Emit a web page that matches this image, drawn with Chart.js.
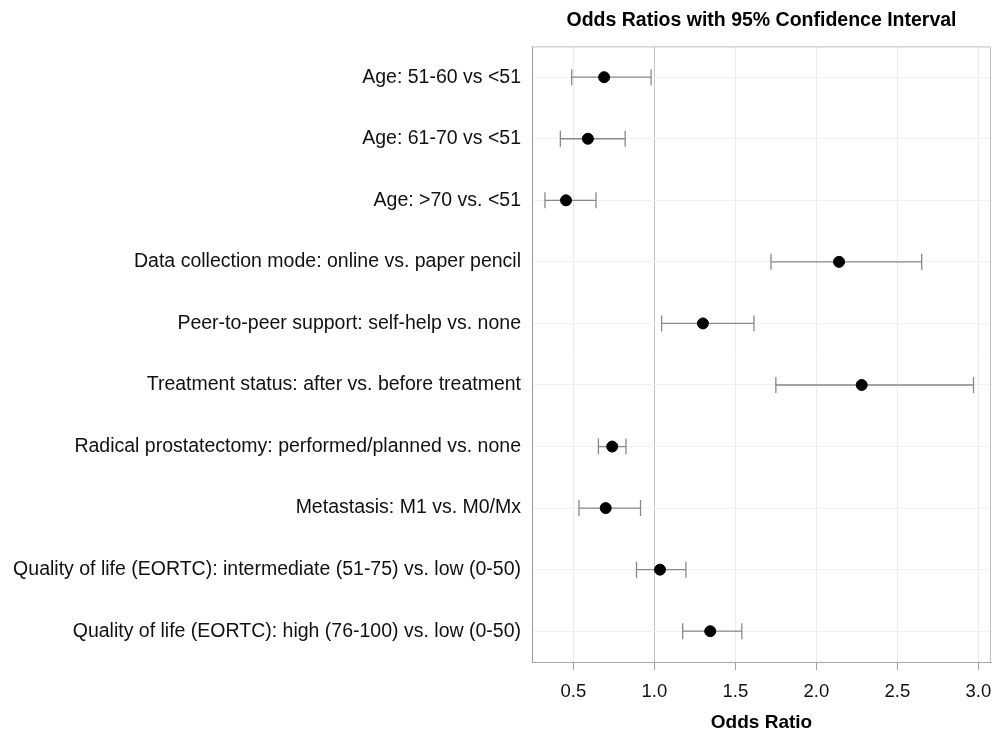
<!DOCTYPE html>
<html>
<head>
<meta charset="utf-8">
<title>Odds Ratios with 95% Confidence Interval</title>
<script src="https://cdn.jsdelivr.net/npm/chart.js@4.4.0/dist/chart.umd.min.js"></script>
<style>
    body { margin: 0; background: #ffffff; }
    canvas { display: block; }
</style>
</head>
<body>
<canvas id="myChart" width="1000" height="735"></canvas>
<script>
// Data
const categories = [
    'Age: 51-60 vs <51',
    'Age: 61-70 vs <51',
    'Age: >70 vs. <51',
    'Data collection mode: online vs. paper pencil',
    'Peer-to-peer support: self-help vs. none',
    'Treatment status: after vs. before treatment',
    'Radical prostatectomy: performed/planned vs. none',
    'Metastasis: M1 vs. M0/Mx',
    'Quality of life (EORTC): intermediate (51-75) vs. low (0-50)',
    'Quality of life (EORTC): high (76-100) vs. low (0-50)'
];
const oddsRatio = [0.69, 0.59, 0.455, 2.14, 1.30, 2.28, 0.74, 0.70, 1.035, 1.345];
const ciLower = [0.49, 0.42, 0.325, 1.72, 1.045, 1.75, 0.655, 0.535, 0.89, 1.175];
const ciUpper = [0.98, 0.82, 0.64, 2.65, 1.615, 2.97, 0.825, 0.915, 1.195, 1.54];
const xTicks = [0.5, 1.0, 1.5, 2.0, 2.5, 3.0];

const fontFamily = '"Liberation Sans", Arial, Helvetica, sans-serif';

// Draws the confidence interval whiskers with caps
const errorBars = {
    id: 'errorBars',
    beforeDatasetsDraw(chart) {
        const ctx = chart.ctx;
        const x = chart.scales.x;
        const y = chart.scales.y;
        ctx.save();
        ctx.strokeStyle = '#888888';
        ctx.lineWidth = 1.3;
        for (let i = 0; i < categories.length; i++) {
            let yp = y.getPixelForValue(i);
            let x1 = x.getPixelForValue(ciLower[i]);
            let x2 = x.getPixelForValue(ciUpper[i]);
            ctx.beginPath();
            ctx.moveTo(x1, yp);
            ctx.lineTo(x2, yp);
            ctx.moveTo(x1, yp - 8);
            ctx.lineTo(x1, yp + 8);
            ctx.moveTo(x2, yp - 8);
            ctx.lineTo(x2, yp + 8);
            ctx.stroke();
        }
        ctx.restore();
    }
};

// Top and right edges of the panel frame
const frame = {
    id: 'frame',
    afterDraw(chart) {
        const ctx = chart.ctx;
        const a = chart.chartArea;
        ctx.save();
        ctx.strokeStyle = '#c0c0c0';
        ctx.lineWidth = 1;
        ctx.beginPath();
        ctx.moveTo(a.left, a.top + 0.5);
        ctx.lineTo(a.right - 0.5, a.top + 0.5);
        ctx.lineTo(a.right - 0.5, a.bottom);
        ctx.stroke();
        ctx.restore();
    }
};

const ctx = document.getElementById('myChart').getContext('2d');
const myChart = new Chart(ctx, {
    type: 'scatter',
    data: {
        datasets: [{
            label: 'Odds Ratio',
            data: categories.map((c, i) => ({ x: oddsRatio[i], y: c })),
            backgroundColor: '#000000',
            borderColor: '#000000',
            pointRadius: 5.5,
            pointHoverRadius: 5.5
        }]
    },
    options: {
        responsive: false,
        animation: false,
        layout: { padding: { left: 0, right: 9, top: 0, bottom: 0 } },
        plugins: {
            legend: { display: false },
            tooltip: { enabled: false },
            title: {
                display: true,
                text: 'Odds Ratios with 95% Confidence Interval',
                fullSize: false,
                color: '#000000',
                font: { family: fontFamily, size: 19.5, weight: 'bold' },
                padding: { top: 9, bottom: 14 }
            }
        },
        scales: {
            x: {
                type: 'linear',
                min: 0.245,
                max: 3.078,
                afterBuildTicks(scale) {
                    scale.ticks = xTicks.map(v => ({ value: v }));
                },
                afterFit(scale) {
                    scale.height = 73;
                    scale.paddingRight = 0;
                },
                ticks: {
                    includeBounds: false,
                    padding: 11,
                    color: '#111111',
                    font: { family: fontFamily, size: 18.5 },
                    callback: value => value.toFixed(1)
                },
                grid: {
                    color: c => (c.tick && c.tick.value === 1 ? '#c4c4c4' : '#ececec'),
                    tickColor: '#a0a0a0',
                    tickLength: 8
                },
                border: { color: '#a8a8a8' },
                title: {
                    display: true,
                    text: 'Odds Ratio',
                    color: '#000000',
                    font: { family: fontFamily, size: 19, weight: 'bold' },
                    padding: { top: 0, bottom: 1 }
                }
            },
            y: {
                type: 'category',
                labels: categories,
                offset: true,
                afterFit(scale) {
                    scale.width = 532;
                },
                ticks: {
                    padding: 11,
                    color: '#111111',
                    font: { family: fontFamily, size: 19.5 }
                },
                grid: {
                    offset: false,
                    drawTicks: false,
                    color: '#f1f1f1'
                },
                border: { color: '#9a9a9a' }
            }
        }
    },
    plugins: [errorBars, frame]
});
</script>
</body>
</html>
